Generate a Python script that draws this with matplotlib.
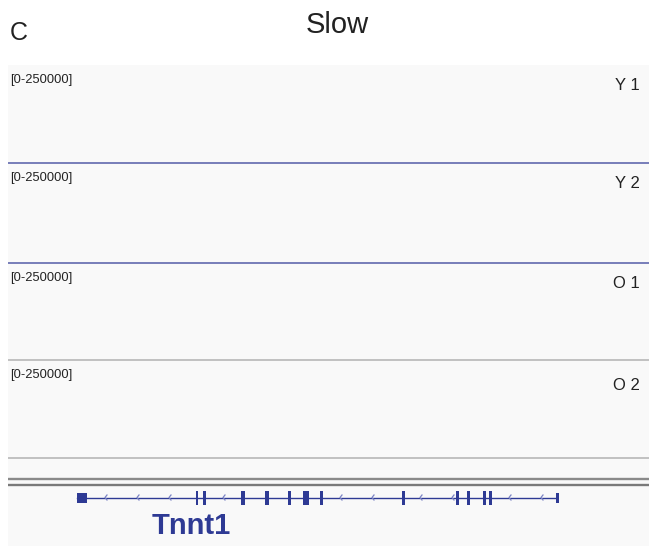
import matplotlib
matplotlib.use("Agg")
import matplotlib.pyplot as plt
from matplotlib import font_manager

# Track data
track_names = ["Y 1", "Y 2", "O 1", "O 2"]
track_range = [0, 250000]
track_line_colors = ["#6d74b4", "#6d74b4", "#bdbdbd", "#bdbdbd"]

# Gene model (track coordinates)
gene_name = "Tnnt1"
gene_start, gene_end = 77, 557
utr_blocks = [(77, 86.5), (555.5, 558.5)]
exon_blocks = [(195.8, 198.2), (203.2, 205.6), (241, 245.2), (264.8, 269.2), (288, 290.6),
               (303.2, 308.8), (320.3, 322.6), (402, 404.6), (456, 458.6),
               (467, 469.6), (483, 485.6), (489, 491.6)]
strand_arrows = [105, 137, 169, 223, 340, 372, 420, 452, 509, 541]

installed = {f.name for f in font_manager.fontManager.ttflist}
narrow = "Liberation Sans Narrow" if "Liberation Sans Narrow" in installed else "Liberation Sans"
plt.rcParams["font.family"] = ["Liberation Sans", "DejaVu Sans"]

W, H = 649, 546
fig = plt.figure(figsize=(W / 100, H / 100), dpi=100, facecolor="white")

def box(x0, y0, x1, y1):
    return [x0 / W, 1 - y1 / H, (x1 - x0) / W, (y1 - y0) / H]

bg = "#f9f9f9"
gene_color = "#2e3a94"

# background behind the whole track area
bgax = fig.add_axes(box(8, 65, W, H))
bgax.set_facecolor(bg)
bgax.set_xticks([]); bgax.set_yticks([])
for s in bgax.spines.values():
    s.set_visible(False)

fig.text(10 / W, 1 - 33 / H, "C", fontsize=18, family=narrow, color="#222222", va="center")
fig.text(337 / W, 1 - 25 / H, "Slow", fontsize=21, family=narrow, color="#222222",
         ha="center", va="center")

tops = [65, 163, 263, 360]
bottoms = [163, 263, 360, 458]
for name, top, bot, lc in zip(track_names, tops, bottoms, track_line_colors):
    ax = fig.add_axes(box(8, top, W, bot))
    ax.set_facecolor("none")
    ax.set_xlim(0, 1)
    ax.set_ylim(*track_range)
    ax.plot([0, 1], [0, 0], color=lc, lw=1.3, solid_capstyle="butt", clip_on=False)
    ax.set_xticks([]); ax.set_yticks([])
    for s in ax.spines.values():
        s.set_visible(False)
    ax.text(0.004, 0.845, f"[{track_range[0]}-{track_range[1]}]", transform=ax.transAxes,
            fontsize=9.3, family=narrow, color="#222222", va="center", ha="left")
    ly = 0.79 if name != "O 2" else 0.74
    ax.text(0.986, ly, name, transform=ax.transAxes, fontsize=12, family=narrow,
            color="#222222", ha="right", va="center")

# double separator above the gene track
sep = fig.add_axes(box(8, 476, W, 488))
sep.set_facecolor("none")
sep.set_xlim(0, 1); sep.set_ylim(488, 476)
sep.axhline(479.3, color="#8a8a8a", lw=1.7)
sep.axhline(485, color="#7a7a7a", lw=1.7)
sep.axis("off")

# gene track
gax = fig.add_axes(box(0, 486, W, H))
gax.set_facecolor("none")
gax.set_xlim(0, W)
gax.set_ylim(H, 486)
gax.axis("off")
gy = 497.5
gax.plot([gene_start, gene_end], [gy, gy], color=gene_color, lw=1.0)
for a, b in utr_blocks:
    gax.fill_between([a, b], gy - 4.8, gy + 5.2, color=gene_color, lw=0)
for a, b in exon_blocks:
    gax.fill_between([a, b], gy - 7, gy + 7.5, color=gene_color, lw=0)
for x in strand_arrows:
    gax.plot([x + 2, x, x + 2], [gy - 2.5, gy, gy + 2.5], color="#7b84c4", lw=0.9)
gax.text(191, 526, gene_name, fontsize=21, fontweight="bold", color=gene_color,
         ha="center", va="center")

fig.savefig("out.png", dpi=100, facecolor="white")
